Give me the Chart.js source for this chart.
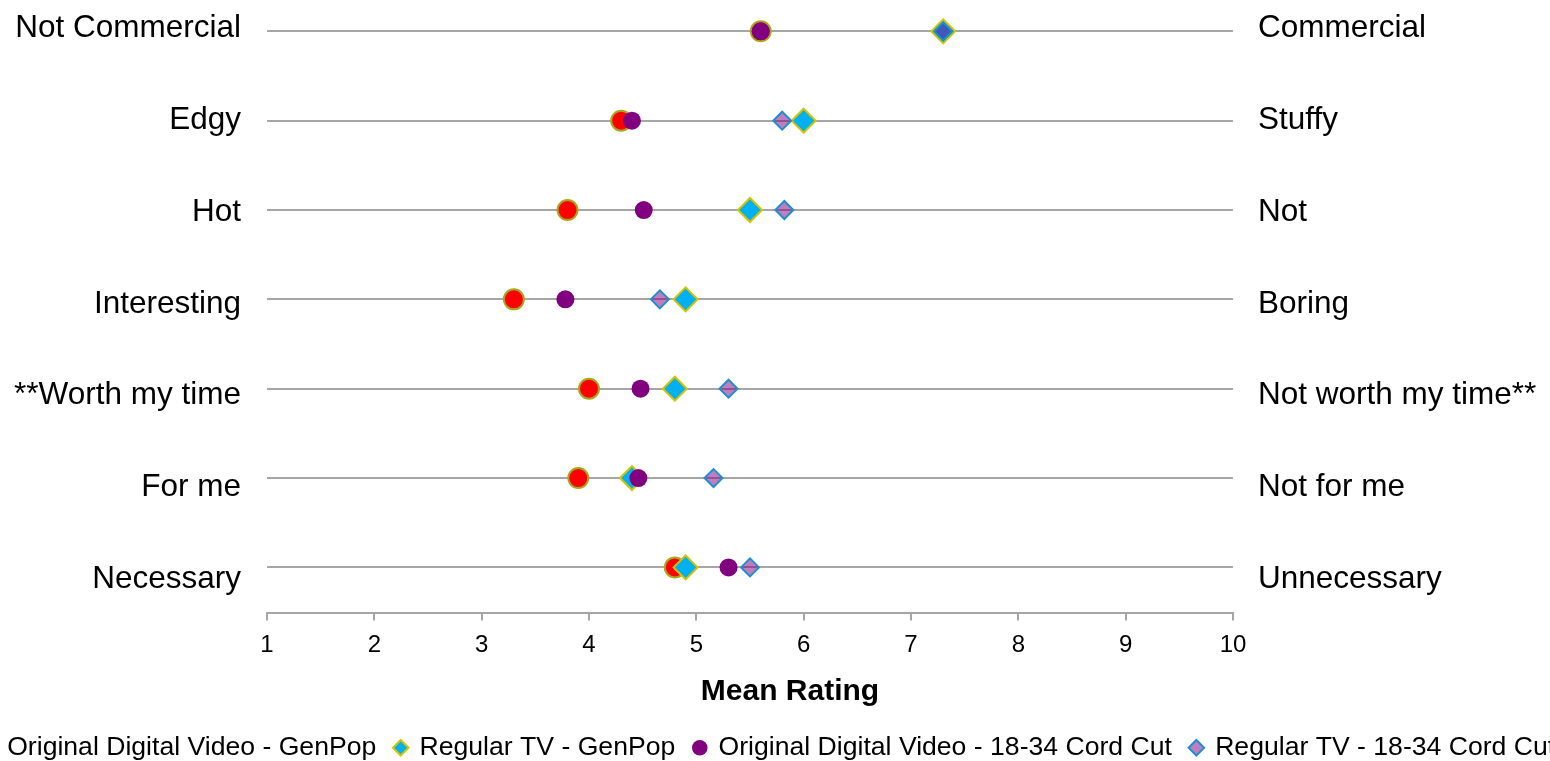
<!DOCTYPE html>
<html>
<head>
<meta charset="utf-8">
<script src="https://cdn.jsdelivr.net/npm/chart.js@4.4.1/dist/chart.umd.min.js"></script>
<style>
  html, body { margin: 0; padding: 0; background: #fff; overflow: hidden; width: 1550px; height: 761px; }
  #wrap { position: absolute; left: -75px; top: 0; width: 1700px; height: 761px; }
</style>
</head>
<body>
<div id="wrap"><canvas id="c"></canvas></div>
<script>
// Rows, top to bottom
const leftLabels  = ['Not Commercial', 'Edgy', 'Hot', 'Interesting', '**Worth my time', 'For me', 'Necessary'];
const rightLabels = ['Commercial', 'Stuffy', 'Not', 'Boring', 'Not worth my time**', 'Not for me', 'Unnecessary'];
const xTicks = [1, 2, 3, 4, 5, 6, 7, 8, 9, 10];
const xAxisTitle = 'Mean Rating';

const seriesNames = [
  'Original Digital Video - GenPop',
  'Regular TV - GenPop',
  'Original Digital Video - 18-34 Cord Cut',
  'Regular TV - 18-34 Cord Cut'
];
const odvGenPop   = [5.6, 4.3, 3.8, 3.3, 4.0, 3.9, 4.8];
const tvGenPop    = [7.3, 6.0, 5.5, 4.9, 4.8, 4.4, 4.9];
const odvCordCut  = [5.6, 4.4, 4.51, 3.78, 4.48, 4.46, 5.3];
const tvCordCut   = [7.3, 5.8, 5.82, 4.66, 5.3, 5.16, 5.5];

const nRows = leftLabels.length;
const toPoints = arr => arr.map((v, i) => ({ x: v, y: nRows - i }));
const rowValues = leftLabels.map((_, i) => nRows - i);

const FONT = "'Liberation Sans', Arial, sans-serif";
const GRID = '#a6a6a6';
const noPad = s => { s.paddingTop = 0; s.paddingBottom = 0; };

// Axis title drawn slightly right of centre, as in the source chart
const xTitlePlugin = {
  id: 'xTitle',
  afterDraw(chart) {
    const { ctx, chartArea } = chart;
    ctx.save();
    ctx.font = "bold 30px " + FONT;
    ctx.fillStyle = '#000';
    ctx.textAlign = 'center';
    ctx.textBaseline = 'middle';
    ctx.fillText(xAxisTitle, (chartArea.left + chartArea.right) / 2 + 40, chartArea.bottom + 78);
    ctx.restore();
  }
};

const chart = new Chart(document.getElementById('c'), {
  type: 'scatter',
  data: {
    datasets: [
      { label: seriesNames[0], data: toPoints(odvGenPop), order: 4,
        pointStyle: 'circle', pointRadius: 10, pointHoverRadius: 10,
        backgroundColor: '#ff0000', borderColor: '#a8a81a', borderWidth: 2 },
      { label: seriesNames[1], data: toPoints(tvGenPop), order: 3,
        pointStyle: 'rectRot', pointRadius: 12, pointHoverRadius: 12,
        backgroundColor: '#00b0f0', borderColor: '#d4c400', borderWidth: 2 },
      { label: seriesNames[2], data: toPoints(odvCordCut), order: 2,
        pointStyle: 'circle', pointRadius: 9, pointHoverRadius: 9,
        backgroundColor: '#800080', borderColor: '#800080', borderWidth: 0 },
      { label: seriesNames[3], data: toPoints(tvCordCut), order: 1,
        pointStyle: 'rectRot', pointRadius: 9, pointHoverRadius: 9,
        backgroundColor: 'rgba(128,0,128,0.5)', borderColor: '#1f8fd0', borderWidth: 2 }
    ]
  },
  plugins: [xTitlePlugin],
  options: {
    responsive: true,
    maintainAspectRatio: false,
    animation: false,
    layout: { padding: { top: 0, left: 0, right: 12, bottom: -10 } },
    plugins: {
      tooltip: { enabled: false },
      legend: {
        position: 'bottom',
        align: 'center',
        labels: {
          usePointStyle: true,
          boxWidth: 11,
          boxHeight: 11,
          padding: 19,
          color: '#000',
          font: { family: FONT, size: 26.6 },
          sort: (a, b) => a.datasetIndex - b.datasetIndex
        }
      }
    },
    scales: {
      x: {
        type: 'linear',
        position: 'bottom',
        min: 1, max: 10,
        afterBuildTicks: s => { s.ticks = xTicks.map(v => ({ value: v })); },
        afterFit: s => { s.height = 102; },
        ticks: { color: '#000', font: { family: FONT, size: 24 }, padding: 11 },
        grid: { drawOnChartArea: false, drawTicks: true, tickLength: 7, color: GRID, lineWidth: 2 },
        border: { display: true, color: GRID, width: 2 },
        title: { display: false }
      },
      y: {
        type: 'linear',
        position: 'left',
        min: 0.485, max: 7.194,
        afterBuildTicks: s => { s.ticks = rowValues.map(v => ({ value: v })); },
        afterFit: s => { s.width = 0; noPad(s); },
        ticks: { display: false },
        grid: { color: GRID, lineWidth: 2, drawTicks: false },
        border: { display: false }
      },
      yl: {
        type: 'linear',
        position: 'left',
        min: 0.6295, max: 7.1555,
        afterBuildTicks: s => { s.ticks = rowValues.map(v => ({ value: v })); },
        afterFit: s => { s.width = 342; noPad(s); },
        ticks: { color: '#000', font: { family: FONT, size: 31.5 }, padding: 26,
                 callback: v => leftLabels[nRows - v] },
        grid: { display: false, drawTicks: false },
        border: { display: false }
      },
      yr: {
        type: 'linear',
        position: 'right',
        min: 0.6295, max: 7.1555,
        afterBuildTicks: s => { s.ticks = rowValues.map(v => ({ value: v })); },
        afterFit: s => { s.width = 380; noPad(s); },
        ticks: { color: '#000', font: { family: FONT, size: 31.5 }, padding: 25,
                 callback: v => rightLabels[nRows - v] },
        grid: { display: false, drawTicks: false },
        border: { display: false }
      }
    }
  }
});
</script>
</body>
</html>
